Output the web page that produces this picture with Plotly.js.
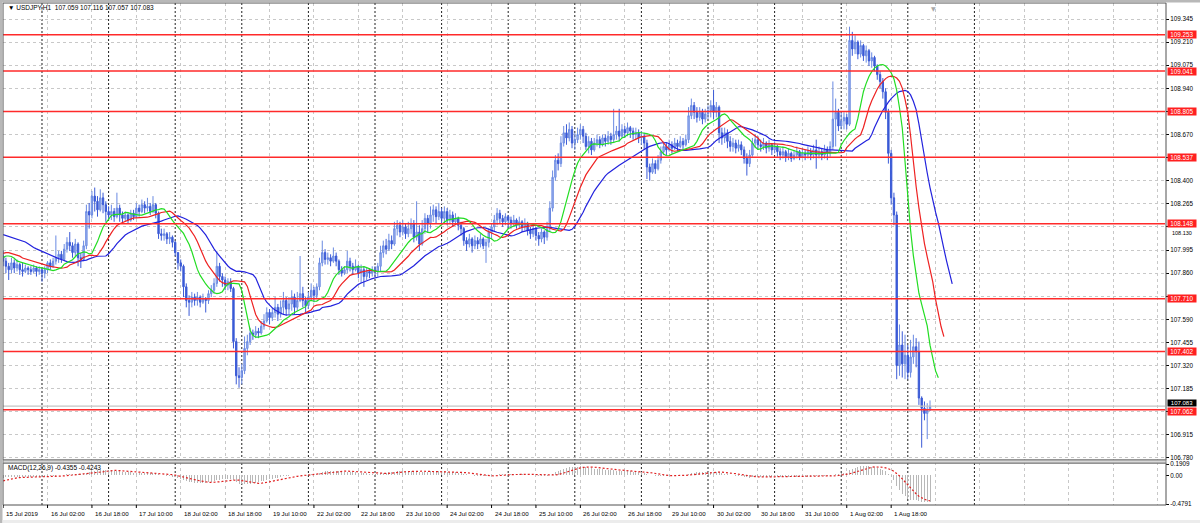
<!DOCTYPE html>
<html>
<head>
<meta charset="utf-8">
<script src="https://cdn.plot.ly/plotly-3.0.1.min.js"></script>
<style>
html,body{margin:0;padding:0;background:#ffffff;overflow:hidden;}
#chart{width:1200px;height:523px;}
</style>
</head>
<body>
<div id="chart"></div>
<script>
// ---------------- DATA (USDJPY H1) ----------------
// bar 0 = 15 Jul 2019 10:00, one bar per hour, last bar = 2 Aug 08:00
const firstOpen = 107.96;
const closes = [
 // 15 Jul
 107.93,107.90,107.88,107.92,107.89,107.91,107.88,107.87,107.89,107.88,107.87,107.89,107.87,107.88,
 // 16 Jul
 107.86,107.88,107.92,107.90,107.93,107.95,107.97,107.94,108.00,108.04,108.02,107.98,108.03,107.95,107.94,108.02,108.22,108.20,108.31,108.28,108.23,108.30,108.26,108.22,
 // 17 Jul
 108.20,108.22,108.19,108.24,108.20,108.18,108.20,108.17,108.21,108.19,108.24,108.22,108.26,108.24,108.25,108.22,108.26,108.21,108.09,108.08,108.09,108.06,108.07,108.04,
 // 18 Jul
 107.98,107.92,107.90,107.78,107.70,107.69,107.72,107.70,107.72,107.69,107.71,107.70,107.74,107.76,107.80,107.90,107.84,107.82,107.79,107.81,107.77,107.46,107.26,107.25,
 // 19 Jul
 107.29,107.42,107.46,107.51,107.50,107.52,107.51,107.55,107.58,107.63,107.60,107.63,107.66,107.62,107.66,107.70,107.65,107.68,107.72,107.66,107.70,107.74,107.70,107.67,
 // 22 Jul
 107.72,107.76,107.73,107.78,107.92,107.98,107.94,107.95,107.93,107.96,107.93,107.88,107.86,107.88,107.93,107.90,107.88,107.90,107.86,107.88,107.84,107.87,107.86,107.88,
 // 23 Jul
 107.87,107.90,107.98,108.02,108.00,108.05,108.03,108.12,108.14,108.10,108.13,108.09,108.12,108.15,108.07,108.10,108.03,108.12,108.18,108.15,108.20,108.23,108.19,108.22,
 // 24 Jul
 108.18,108.22,108.17,108.20,108.16,108.18,108.14,108.12,108.05,108.03,108.06,108.02,108.05,108.03,108.06,108.02,108.04,108.10,108.13,108.17,108.21,108.18,108.16,108.19,
 // 25 Jul
 108.17,108.15,108.17,108.14,108.16,108.13,108.15,108.11,108.09,108.12,108.08,108.06,108.10,108.07,108.12,108.24,108.42,108.52,108.50,108.62,108.68,108.65,108.70,108.62,
 // 26 Jul
 108.64,108.67,108.70,108.66,108.60,108.63,108.58,108.62,108.64,108.61,108.65,108.63,108.66,108.64,108.67,108.69,108.66,108.70,108.68,108.71,108.69,108.67,108.68,108.65,
 // 29 Jul
 108.66,108.62,108.48,108.45,108.50,108.47,108.52,108.57,108.60,108.58,108.61,108.59,108.62,108.60,108.63,108.61,108.64,108.78,108.84,108.80,108.77,108.80,108.76,108.79,
 // 30 Jul
 108.81,108.84,108.80,108.83,108.68,108.65,108.68,108.63,108.60,108.62,108.59,108.61,108.58,108.53,108.50,108.55,108.62,108.64,108.61,108.60,108.62,108.59,108.61,108.58,
 // 31 Jul
 108.60,108.57,108.55,108.57,108.54,108.56,108.53,108.55,108.57,108.54,108.56,108.55,108.57,108.55,108.58,108.55,108.57,108.55,108.58,108.56,108.60,108.76,108.80,108.72,
 // 1 Aug
 108.75,108.77,108.73,109.22,109.17,109.21,109.14,109.19,109.13,109.16,109.10,109.12,109.07,109.02,108.98,108.92,108.80,108.56,108.30,108.20,107.32,107.44,107.33,107.38,
 // 2 Aug
 107.28,107.37,107.43,107.40,107.13,107.07,107.04,107.059,107.083
];
const highs = [
 107.99,107.95,107.92,107.95,107.94,107.94,107.92,107.92,107.91,107.90,107.90,107.91,107.90,107.90,
 107.89,107.90,107.93,107.94,107.95,108.08,107.99,107.99,108.03,108.07,108.10,108.04,108.06,108.04,107.98,108.05,108.26,108.27,108.34,108.36,108.31,108.35,108.33,108.28,
 108.25,108.26,108.24,108.33,108.26,108.22,108.22,108.21,108.23,108.23,108.27,108.26,108.29,108.28,108.30,108.27,108.31,108.27,108.22,108.12,108.12,108.10,108.10,108.08,
 108.05,107.98,107.94,107.91,107.80,107.73,107.75,107.74,107.75,107.73,107.74,107.72,107.76,107.79,107.83,107.99,107.92,107.86,107.84,107.83,107.83,107.78,107.48,107.31,
 107.33,107.49,107.50,107.54,107.53,107.55,107.54,107.58,107.62,107.66,107.65,107.66,107.72,107.68,107.70,107.75,107.72,107.72,107.76,107.74,107.75,107.96,107.78,107.72,
 107.75,107.80,107.78,107.80,107.95,108.05,108.00,107.98,107.97,108.01,107.98,107.94,107.90,107.90,107.99,107.95,107.92,107.94,107.91,107.91,107.90,107.89,107.89,107.90,
 107.90,107.92,108.02,108.05,108.06,108.09,108.08,108.16,108.17,108.16,108.17,108.15,108.16,108.18,108.17,108.28,108.14,108.17,108.21,108.20,108.25,108.26,108.25,108.27,
 108.24,108.25,108.24,108.23,108.22,108.21,108.19,108.16,108.13,108.07,108.09,108.07,108.08,108.07,108.09,108.07,108.06,108.12,108.15,108.20,108.24,108.23,108.20,108.21,
 108.20,108.19,108.20,108.18,108.19,108.17,108.18,108.16,108.13,108.15,108.13,108.10,108.12,108.11,108.16,108.28,108.46,108.55,108.56,108.66,108.72,108.73,108.74,108.72,
 108.68,108.71,108.73,108.72,108.68,108.66,108.65,108.65,108.67,108.66,108.67,108.67,108.69,108.68,108.82,108.72,108.82,108.73,108.72,108.74,108.72,108.71,108.71,108.70,
 108.69,108.68,108.64,108.50,108.53,108.52,108.55,108.60,108.63,108.62,108.64,108.63,108.65,108.64,108.66,108.65,108.67,108.83,108.88,108.86,108.83,108.83,108.82,108.82,
 108.84,108.87,108.93,108.86,108.84,108.71,108.71,108.70,108.66,108.65,108.64,108.64,108.63,108.60,108.56,108.58,108.65,108.67,108.66,108.64,108.65,108.63,108.64,108.62,
 108.63,108.61,108.59,108.60,108.58,108.59,108.57,108.58,108.60,108.58,108.59,108.58,108.60,108.59,108.61,108.64,108.60,108.59,108.61,108.60,108.63,108.98,108.88,108.82,
 108.80,108.80,108.79,109.30,109.27,109.25,109.22,109.22,109.20,109.19,109.17,109.15,109.13,109.08,109.04,109.00,108.94,108.82,108.58,108.33,108.22,107.56,107.52,107.50,
 107.44,107.47,107.50,107.48,107.46,107.14,107.11,107.10,107.116
];
const lows = [
 107.90,107.86,107.82,107.86,107.86,107.87,107.85,107.84,107.86,107.85,107.85,107.86,107.84,107.85,
 107.81,107.83,107.86,107.88,107.89,107.91,107.92,107.92,107.93,107.98,107.99,107.95,107.96,107.90,107.89,107.93,108.00,108.12,108.18,108.22,108.19,108.22,108.21,108.16,
 108.17,108.17,108.16,108.18,108.16,108.15,108.16,108.15,108.16,108.17,108.18,108.19,108.21,108.21,108.22,108.20,108.21,108.18,108.06,108.05,108.05,108.03,108.03,108.01,
 107.96,107.88,107.87,107.72,107.66,107.61,107.66,107.67,107.67,107.66,107.68,107.63,107.68,107.72,107.74,107.78,107.81,107.78,107.76,107.76,107.75,107.42,107.21,107.19,
 107.21,107.27,107.38,107.44,107.47,107.48,107.48,107.50,107.53,107.57,107.56,107.58,107.60,107.58,107.60,107.62,107.61,107.62,107.64,107.62,107.64,107.69,107.66,107.63,
 107.65,107.70,107.69,107.71,107.76,107.90,107.91,107.91,107.90,107.92,107.90,107.85,107.84,107.85,107.86,107.87,107.85,107.87,107.83,107.80,107.78,107.82,107.83,107.84,
 107.84,107.84,107.87,107.95,107.97,107.99,108.00,108.02,108.08,108.07,108.08,108.06,108.07,108.09,108.04,108.05,107.99,108.02,108.09,108.10,108.12,108.16,108.15,108.17,
 108.14,108.15,108.14,108.15,108.13,108.14,108.11,108.08,108.02,107.99,108.01,107.98,108.00,108.00,108.01,108.00,107.92,108.01,108.06,108.10,108.14,108.15,108.13,108.14,
 108.12,108.12,108.13,108.12,108.12,108.10,108.11,108.08,108.06,108.07,108.05,108.02,108.04,108.03,108.05,108.10,108.22,108.40,108.46,108.48,108.60,108.61,108.63,108.59,
 108.58,108.62,108.64,108.62,108.58,108.56,108.55,108.57,108.60,108.59,108.60,108.60,108.61,108.61,108.62,108.64,108.63,108.65,108.65,108.66,108.65,108.64,108.64,108.62,
 108.61,108.58,108.41,108.40,108.44,108.44,108.46,108.50,108.55,108.55,108.57,108.56,108.58,108.57,108.59,108.58,108.60,108.62,108.76,108.76,108.74,108.75,108.73,108.74,
 108.76,108.77,108.76,108.77,108.62,108.61,108.62,108.59,108.57,108.57,108.56,108.57,108.55,108.50,108.43,108.48,108.54,108.59,108.58,108.57,108.58,108.56,108.57,108.55,
 108.56,108.54,108.52,108.53,108.51,108.52,108.51,108.52,108.53,108.52,108.53,108.52,108.53,108.52,108.53,108.47,108.53,108.52,108.53,108.52,108.54,108.58,108.60,108.69,
 108.70,108.70,108.70,108.72,109.13,109.14,109.11,109.12,109.10,109.09,109.07,109.06,109.04,108.99,108.94,108.88,108.76,108.50,108.26,108.14,107.24,107.26,107.25,107.24,
 107.24,107.25,107.33,107.31,107.09,106.84,107.00,106.89,107.057
];

// Indicator values already on screen before the first bar
const jawLead   = [108.085,108.080,108.075,108.070,108.065,108.060,108.055,108.050]; // Alligator jaw
const teethLead = [107.975,107.980,107.980,107.975,107.970];                         // Alligator teeth
const lipsLead  = [107.950,107.960,107.960];                                         // Alligator lips
const ema12Seed = 107.91, ema26Seed = 107.95;
const macdLead  = [-0.14,-0.13,-0.12,-0.11,-0.10,-0.08,-0.06,-0.05];

// Horizontal levels drawn on the chart
const levels = [109.253,109.041,108.805,108.537,108.148,107.710,107.402,107.062];
const bidPrice = 107.083;

// Axis labels
const priceTicks = [106.780,106.915,107.050,107.185,107.320,107.455,107.590,107.725,107.860,107.995,108.130,108.265,108.400,108.535,108.670,108.805,108.940,109.075,109.210,109.345];
const hiddenPriceLabels = [107.050,107.725,108.130,108.535,108.805];
const peekLabel = 108.130; // mostly covered by the 108.148 level label, only its lower edge shows
const timeLabelBars = [0,16,32,48,64,80,96,112,128,144,160,176,192,208,224,240,256,272,288,304,320];
const timeLabels = ["15 Jul 2019","16 Jul 02:00","16 Jul 18:00","17 Jul 10:00","18 Jul 02:00","18 Jul 18:00","19 Jul 10:00","22 Jul 02:00","22 Jul 18:00","23 Jul 10:00","24 Jul 02:00","24 Jul 18:00","25 Jul 10:00","26 Jul 02:00","26 Jul 18:00","29 Jul 10:00","30 Jul 02:00","30 Jul 18:00","31 Jul 10:00","1 Aug 02:00","1 Aug 18:00"];
const dayStartBars = [14,38,62,86,110,134,158,182,206,230,254,278,302,326,350];
const macdTicks = [0.1909, 0.00, -0.4791];
const macdTickText = ["0.1909","0.00","-0.4791"];
const headerText = "▼ USDJPY,H1  107.059 107.116 107.057 107.083";
const macdText = "MACD(12,26,9) -0.4355 -0.4243";

// ---------------- BUILD ----------------
const N = closes.length;
const bars = closes.map((_, i) => i);
const opens = closes.map((c, i) => i === 0 ? firstOpen : closes[i - 1]); // hourly FX bars open at the prior close
const hi = highs.map((h, i) => Math.max(h, opens[i], closes[i]));
const lo = lows.map((l, i) => Math.min(l, opens[i], closes[i]));
const median = hi.map((h, i) => (h + lo[i]) / 2);

function smma(period, seed) {
  let v = seed;
  return median.map(m => (v = (v * (period - 1) + m) / period));
}
function shifted(lead, period, shift) {
  const vals = smma(period, lead[lead.length - 1]);
  const xs = [], ys = [];
  lead.forEach((v, k) => { xs.push(k); ys.push(v); });
  vals.forEach((v, b) => { xs.push(b + shift); ys.push(v); });
  return {xs, ys};
}
const jaw = shifted(jawLead, 13, 8);
const teeth = shifted(teethLead, 8, 5);
const lips = shifted(lipsLead, 5, 3);

let e12 = ema12Seed, e26 = ema26Seed;
const macd = closes.map(c => { e12 += (c - e12) * 2 / 13; e26 += (c - e26) * 2 / 27; return e12 - e26; });
const macdAll = macdLead.concat(macd);
const signal = macd.map((_, i) => { let s = 0; for (let k = i; k < i + 9; k++) s += macdAll[k]; return s / 9; });

// pixel helpers (plot area: x 3..1165, y 3..505)
const PW = 1162, PH = 502;
const px = x => (x - 3) / PW;
const py = y => (505 - y) / PH;

const FONT = "Liberation Sans, Arial, sans-serif";

const traces = [
  {type: 'candlestick', x: bars, open: opens, high: hi, low: lo, close: closes,
   xaxis: 'x', yaxis: 'y', whiskerwidth: 0,
   increasing: {line: {color: '#6a8ae2', width: 1}, fillcolor: '#a8bbf0'},
   decreasing: {line: {color: '#3a5ad6', width: 1}, fillcolor: '#3a5ad6'},
   hoverinfo: 'skip', showlegend: false},
  {type: 'scatter', mode: 'lines', x: jaw.xs, y: jaw.ys, line: {color: '#2222dd', width: 1.2}, xaxis: 'x', yaxis: 'y', hoverinfo: 'skip', showlegend: false},
  {type: 'scatter', mode: 'lines', x: teeth.xs, y: teeth.ys, line: {color: '#ee2222', width: 1.2}, xaxis: 'x', yaxis: 'y', hoverinfo: 'skip', showlegend: false},
  {type: 'scatter', mode: 'lines', x: lips.xs, y: lips.ys, line: {color: '#22dd22', width: 1.2}, xaxis: 'x', yaxis: 'y', hoverinfo: 'skip', showlegend: false},
  {type: 'bar', x: bars, y: macd, width: 0.36, marker: {color: '#b8b8b8', line: {width: 0}}, xaxis: 'x', yaxis: 'y2', hoverinfo: 'skip', showlegend: false},
  {type: 'scatter', mode: 'lines', x: bars, y: signal, line: {color: '#e02020', width: 1.2, dash: '2px,2px'}, xaxis: 'x', yaxis: 'y2', hoverinfo: 'skip', showlegend: false}
];

const shapes = [];
// day separators
dayStartBars.forEach(b => shapes.push({type: 'line', xref: 'x', yref: 'paper', x0: b, x1: b, y0: 0, y1: 1, line: {color: '#202020', width: 1, dash: '2px,2px'}, layer: 'below'}));
// bid line
shapes.push({type: 'line', xref: 'paper', yref: 'y', x0: 0, x1: 1, y0: bidPrice, y1: bidPrice, line: {color: '#c4c4c4', width: 1.2}});
// red levels
levels.forEach(v => shapes.push({type: 'line', xref: 'paper', yref: 'y', x0: 0, x1: 1, y0: v, y1: v, line: {color: '#ff2a2a', width: 1.5}}));
// panel frames
shapes.push({type: 'rect', xref: 'paper', yref: 'paper', x0: px(3), x1: px(1166), y0: py(460), y1: py(3), line: {color: '#505050', width: 1}});
shapes.push({type: 'rect', xref: 'paper', yref: 'paper', x0: px(3), x1: px(1166), y0: py(505), y1: py(463), line: {color: '#505050', width: 1}});
shapes.push({type: 'rect', xref: 'paper', yref: 'paper', x0: px(3), x1: px(1166), y0: py(463), y1: py(460), fillcolor: '#d8d8d8', line: {color: '#808080', width: 1}});
// window border
shapes.push({type: 'rect', xref: 'paper', yref: 'paper', x0: px(0), x1: px(2.5), y0: py(523), y1: py(0), fillcolor: '#b8b8b8', line: {width: 0}});
shapes.push({type: 'rect', xref: 'paper', yref: 'paper', x0: px(0), x1: px(1200), y0: py(2.5), y1: py(0), fillcolor: '#b8b8b8', line: {width: 0}});
shapes.push({type: 'rect', xref: 'paper', yref: 'paper', x0: px(2.5), x1: px(1200), y0: py(523), y1: py(520), fillcolor: '#ececec', line: {width: 0}});
// time tick marks
timeLabelBars.forEach(b => shapes.push({type: 'line', xref: 'x', yref: 'paper', x0: b, x1: b, y0: py(505), y1: py(508), line: {color: '#000', width: 1}}));

const annotations = [];
timeLabelBars.forEach((b, k) => annotations.push({xref: 'x', yref: 'paper', x: b, y: py(513), xanchor: 'left', yanchor: 'middle', xshift: 1, text: timeLabels[k], showarrow: false, font: {family: FONT, size: 6.2, color: '#000'}}));
annotations.push({xref: 'paper', yref: 'paper', x: px(6), y: py(8), xanchor: 'left', yanchor: 'middle', text: headerText, showarrow: false, font: {family: FONT, size: 6.5, color: '#000'}});
annotations.push({xref: 'paper', yref: 'paper', x: px(6), y: py(468), xanchor: 'left', yanchor: 'middle', text: macdText, showarrow: false, font: {family: FONT, size: 6.5, color: '#000'}});
annotations.push({xref: 'paper', yref: 'paper', x: px(933), y: py(3), xanchor: 'center', yanchor: 'top', text: '▼', showarrow: false, font: {family: 'DejaVu Sans', size: 6, color: '#a8a8a8'}});
// partly covered tick label, nudged to sit just under the level label
annotations.push({xref: 'paper', yref: 'y', x: 1, y: peekLabel, xanchor: 'left', yanchor: 'top', xshift: 5, yshift: -1.5, text: peekLabel.toFixed(3), showarrow: false, font: {family: FONT, size: 5.5, color: '#000'}});
// bid label (sits just above) then level labels
annotations.push({xref: 'paper', yref: 'y', x: 1, y: bidPrice, xanchor: 'left', yanchor: 'bottom', xshift: 2, yshift: -1, text: bidPrice.toFixed(3), showarrow: false, bgcolor: '#000000', borderpad: 0, width: 28, height: 6, font: {family: FONT, size: 6, color: '#ffffff'}});
levels.forEach(v => annotations.push({xref: 'paper', yref: 'y', x: 1, y: v, xanchor: 'left', yanchor: 'middle', xshift: 2, yshift: v === 107.062 ? -1.5 : 0, text: v.toFixed(3), showarrow: false, bgcolor: '#ff2020', borderpad: 0, width: 28, height: 7, font: {family: FONT, size: 6.3, color: '#ffffff'}}));

const gridTicks = [];
for (let b = 0; b <= 416; b += 16) gridTicks.push(b);

const layout = {
  width: 1200, height: 523,
  margin: {l: 3, r: 35, t: 3, b: 18, pad: 0},
  paper_bgcolor: '#ffffff', plot_bgcolor: '#ffffff',
  showlegend: false, dragmode: false, hovermode: false,
  bargap: 0,
  xaxis: {range: [-0.05, 418.68], anchor: 'y2', tickmode: 'array', tickvals: gridTicks, showticklabels: false, ticks: '',
          showgrid: true, gridcolor: '#c8c8c8', griddash: '3px,3px', gridwidth: 1, zeroline: false, showline: false,
          rangeslider: {visible: false}, fixedrange: true},
  yaxis: {domain: [py(460), 1], range: [106.768, 109.4385], side: 'right', anchor: 'x',
          tickmode: 'array', tickvals: priceTicks,
          ticktext: priceTicks.map(v => hiddenPriceLabels.includes(v) ? '' : v.toFixed(3)),
          ticks: 'outside', ticklen: 3, tickcolor: '#000', tickwidth: 1,
          showgrid: true, gridcolor: '#c8c8c8', griddash: '3px,3px', gridwidth: 1, zeroline: false,
          showline: false, tickfont: {family: FONT, size: 6.3, color: '#000'}, fixedrange: true},
  yaxis2: {domain: [0, py(462)], range: [-0.4959, 0.2244], side: 'right', anchor: 'x',
           tickmode: 'array', tickvals: macdTicks, ticktext: macdTickText,
           ticks: 'outside', ticklen: 3, tickcolor: '#000', showgrid: false, zeroline: false, showline: false,
           tickfont: {family: FONT, size: 6.3, color: '#000'}, fixedrange: true},
  shapes: shapes,
  annotations: annotations
};

Plotly.newPlot('chart', traces, layout, {staticPlot: true, displayModeBar: false});
</script>
</body>
</html>
